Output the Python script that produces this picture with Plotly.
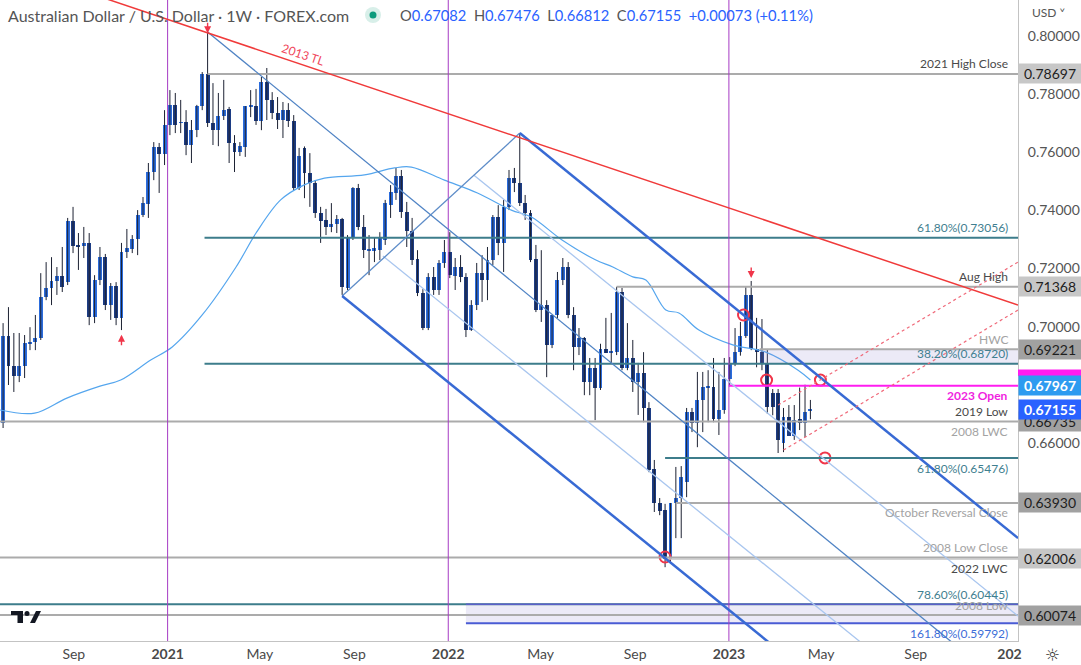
import plotly.graph_objects as go
import pandas as pd

# AUD/USD weekly candles, first bar = week of 1 June 2020
weeks = pd.date_range("2020-06-01", periods=151, freq="7D")

opens = [
    .6668, .6967, .6864, .6830, .6864, .6943, .6947, .6961, .7102, .7133,
    .7157, .7174, .7153, .7363, .7281, .7277, .7288, .7033, .7160, .7239,
    .7074, .7140, .7029, .7257, .7267, .7301, .7384, .7422, .7532, .7618,
    .7594, .7694, .7763, .7701, .7704, .7625, .7677, .7759, .7870, .7701,
    .7677, .7725, .7749, .7632, .7601, .7618, .7759, .7759, .7708, .7842,
    .7780, .7735, .7711, .7745, .7708, .7477, .7615, .7529, .7494, .7391,
    .7367, .7343, .7353, .7370, .7133, .7308, .7477, .7343, .7263, .7260,
    .7263, .7298, .7418, .7460, .7518, .7394, .7329, .7233, .7115, .6995,
    .7171, .7126, .7219, .7257, .7174, .7205, .7171, .6988, .7074, .7184,
    .7160, .7229, .7377, .7288, .7412, .7511, .7494, .7425, .7391, .7233,
    .7057, .7074, .6937, .7040, .7160, .7205, .7040, .6930, .6961, .6809,
    .6857, .6789, .6923, .6912, .6912, .7119, .6857, .6892, .6809, .6840,
    .6720, .6510, .6393, .6369, .6201, .6393, .6410, .6465, .6706, .6668,
    .6747, .6792, .6792, .6682, .6713, .6819, .6875, .6912, .6967, .7109,
    .6923, .6912, .6875, .6771, .6771, .6600, .6689, .6623, .6682, .6668,
    .67082,
]
highs = [
    .7012, .7067, .6978, .6978, .6971, .6998, .7040, .7184, .7222, .7239,
    .7205, .7274, .7374, .7412, .7322, .7343, .7322, .7177, .7274, .7250,
    .7150, .7153, .7288, .7336, .7315, .7401, .7446, .7563, .7635, .7632,
    .7745, .7814, .7804, .7780, .7745, .7711, .7763, .7876, .8014, .7838,
    .7804, .7849, .7756, .7659, .7635, .7759, .7814, .7818, .7859, .7890,
    .7807, .7790, .7773, .7769, .7728, .7615, .7620, .7597, .7504, .7412,
    .7405, .7425, .7384, .7374, .7315, .7480, .7491, .7384, .7315, .7308,
    .7325, .7436, .7487, .7546, .7539, .7429, .7374, .7263, .7129, .7184,
    .7205, .7229, .7298, .7325, .7236, .7246, .7184, .7091, .7219, .7246,
    .7274, .7384, .7418, .7436, .7539, .7546, .7666, .7453, .7401, .7281,
    .7263, .7091, .7040, .7188, .7236, .7222, .7067, .6995, .6964, .6892,
    .6892, .6941, .7030, .7047, .7137, .7133, .7012, .6954, .6875, .6912,
    .6740, .6541, .6410, .6390, .6393, .6517, .6520, .6720, .6720, .6844,
    .6844, .6850, .6892, .6844, .6892, .6895, .6995, .7016, .7136, .7157,
    .7030, .7026, .6923, .6785, .6785, .6720, .6730, .6730, .6790, .6800,
    .67476,
]
lows = [
    .6651, .6799, .6775, .6809, .6823, .6919, .6919, .6954, .7091, .7074,
    .7109, .7119, .7143, .7253, .7195, .7236, .7005, .7012, .7143, .7057,
    .7023, .7005, .6988, .7236, .7253, .7246, .7377, .7374, .7504, .7460,
    .7556, .7659, .7666, .7666, .7590, .7563, .7652, .7745, .7687, .7625,
    .7621, .7711, .7563, .7532, .7587, .7584, .7721, .7694, .7676, .7711,
    .7714, .7680, .7649, .7687, .7470, .7470, .7442, .7412, .7374, .7288,
    .7315, .7325, .7322, .7109, .7126, .7298, .7332, .7236, .7177, .7222,
    .7229, .7281, .7374, .7436, .7374, .7274, .7212, .7105, .6988, .6988,
    .7109, .7109, .7202, .7167, .7126, .7153, .6964, .6985, .7057, .7085,
    .7091, .7212, .7246, .7188, .7401, .7463, .7415, .7367, .7222, .7050,
    .7016, .6826, .6926, .7029, .7143, .7029, .6850, .6902, .6764, .6764,
    .6678, .6782, .6909, .6875, .6902, .6850, .6850, .6775, .6696, .6671,
    .6499, .6362, .6351, .6172, .6190, .6272, .6272, .6413, .6637, .6585,
    .6637, .6671, .6671, .6627, .6700, .6795, .6864, .6900, .6961, .6919,
    .6860, .6850, .6700, .6695, .6565, .6568, .6644, .6610, .6644, .6620,
    .66812,
]
closes = [
    .6967, .6864, .6830, .6864, .6943, .6947, .6961, .7102, .7133, .7157,
    .7174, .7136, .7363, .7277, .7277, .7288, .7033, .7160, .7239, .7074,
    .7140, .7029, .7257, .7270, .7301, .7384, .7425, .7532, .7618, .7594,
    .7694, .7763, .7694, .7704, .7625, .7677, .7759, .7870, .7701, .7677,
    .7725, .7745, .7632, .7601, .7621, .7759, .7761, .7708, .7842, .7780,
    .7735, .7711, .7745, .7708, .7477, .7587, .7529, .7494, .7391, .7363,
    .7343, .7353, .7370, .7136, .7308, .7477, .7343, .7263, .7267, .7270,
    .7308, .7425, .7463, .7518, .7394, .7329, .7229, .7115, .6995, .7171,
    .7126, .7219, .7257, .7177, .7205, .7171, .6988, .7074, .7184, .7160,
    .7229, .7377, .7288, .7412, .7511, .7494, .7425, .7391, .7229, .7057,
    .7074, .6937, .7040, .7160, .7205, .7040, .6930, .6961, .6809, .6857,
    .6789, .6923, .6909, .6915, .7119, .6857, .6892, .6809, .6840, .6720,
    .6506, .6393, .6365, .6201, .6393, .6410, .6482, .6706, .6668, .6747,
    .6792, .6795, .6682, .6713, .6819, .6875, .6912, .6967, .7109, .6923,
    .6912, .6875, .6723, .6723, .6610, .6689, .6623, .6678, .6668, .6706,
    .67155,
]

# moving average
ma_dates = ["2020-05-28", "2020-07-12", "2020-08-23", "2020-10-05", "2020-11-01",
            "2020-12-10", "2021-01-07", "2021-02-15", "2021-03-31", "2021-04-26",
            "2021-05-28", "2021-06-27", "2021-07-24", "2021-09-14", "2021-10-23",
            "2021-11-14", "2021-12-27", "2022-02-08", "2022-03-24", "2022-04-19",
            "2022-05-29", "2022-07-12", "2022-08-03", "2022-08-29", "2022-09-15",
            "2022-10-11", "2022-10-28", "2022-11-23", "2023-01-06", "2023-02-18",
            "2023-04-01", "2023-04-17"]
ma_values = [.6713, .6702, .6754, .6795, .6816, .6885, .6930, .7040, .7205, .7322,
             .7436, .7487, .7511, .7522, .7546, .7549, .7504, .7460, .7401, .7377,
             .7298, .7229, .7205, .7171, .7160, .7057, .7047, .6988, .6937, .6912,
             .6850, .6816]

# horizontal levels: price, start date, kind
level_prices = [0.78697, 0.73056, 0.71368, 0.69221, 0.68720, 0.67967, 0.66735,
                0.65476, 0.63930, 0.62050, 0.62006, 0.60445, 0.60074, 0.59792]
level_starts = ["2021-02-22", "2021-02-18", "2022-08-08", "2023-02-10", "2021-02-18",
                "2023-01-01", "2020-05-01", "2022-10-10", "2022-10-24", "2020-05-01",
                "2022-10-12", "2020-05-01", "2020-05-01", "2022-01-24"]
level_kinds = ["gray", "fib", "gray", "gray", "fib", "open", "gray",
               "fib", "gray", "gray", "lgray", "fib", "gray", "ext"]

# level texts: text, price, side (+1 above, -1 below), kind
label_texts = ["2021 High Close", "61.80%(0.73056)", "Aug High", "HWC", "38.20%(0.68720)",
               "2023 Open", "2019 Low", "2008 LWC", "61.80%(0.65476)", "October Reversal Close",
               "2008 Low Close", "2022 LWC", "78.60%(0.60445)", "2008 Low", "161.80%(0.59792)"]
label_prices = [0.78697, 0.73056, 0.71368, 0.69221, 0.68720, 0.67967, 0.66735, 0.66735,
                0.65476, 0.63930, 0.62050, 0.62006, 0.60445, 0.60074, 0.59792]
label_sides = [1, 1, 1, 1, 1, -1, 1, -1, -1, -1, 1, -1, 1, 1, -1]
label_kinds = ["dark", "fib", "dark", "light", "fib", "open", "dark", "light", "fib",
               "light", "light", "dark", "fib", "light", "ext"]

# price tags on the right scale
tag_prices = [0.78697, 0.71368, 0.69221, 0.66735, 0.67967, 0.67155, 0.63930, 0.62006, 0.60074]
tag_kinds = ["lgray", "lgray", "gray", "gray", "open", "last", "gray", "lgray", "gray"]

# trendlines: (date0, price0, date1, price1)
tl_2013 = ("2020-05-28", 0.8251, "2024-01-12", 0.7074)
chan_upper = ("2022-04-04", 0.7666, "2024-01-12", 0.6272)
chan_lower = ("2021-08-16", 0.7105, "2023-04-04", 0.5825)
chan_handle = ("2021-08-16", 0.7105, "2022-04-04", 0.7666)
line_2021 = ("2021-02-22", 0.8014, "2023-10-29", 0.5890)
pale_a = ("2022-02-03", 0.7522, "2024-01-12", 0.6004)
pale_b = ("2021-10-08", 0.7243, "2023-07-17", 0.5859)
dot_a = ("2023-03-06", 0.6730, "2024-01-12", 0.7222)
dot_b = ("2023-03-13", 0.6575, "2024-01-12", 0.7057)

circle_dates = ["2023-01-20", "2023-02-19", "2023-04-30", "2023-05-06", "2022-10-10"]
circle_prices = [0.7040, 0.6816, 0.6816, 0.6548, 0.6207]

year_lines = ["2021-01-01", "2022-01-01", "2023-01-01"]
tick_dates = ["2020-09-01", "2021-01-01", "2021-05-01", "2021-09-01", "2022-01-01",
              "2022-05-01", "2022-09-01", "2023-01-01", "2023-05-01", "2023-09-01", "2024-01-01"]
tick_names = ["Sep", "<b>2021</b>", "May", "Sep", "<b>2022</b>", "May", "Sep",
              "<b>2023</b>", "May", "Sep", "<b>202</b>"]
price_ticks = [0.80, 0.78, 0.76, 0.74, 0.72, 0.70, 0.66]

FONT = "Lato"
UP, DOWN, WICK = "#2b6cdc", "#1c3c84", "#1d2233"
X0, X1 = "2020-05-28", "2024-01-12"
Y0, Y1 = 0.5918, 0.8124
PW, PH = 1018, 641  # plot area in pixels

fig = go.Figure()

# wicks
wx, wy = [], []
for d, h, l in zip(weeks, highs, lows):
    wx += [d, d, None]
    wy += [l, h, None]
fig.add_trace(go.Scatter(x=wx, y=wy, mode="lines", line=dict(color=WICK, width=1),
                         hoverinfo="skip", showlegend=False))

# bodies
base = [min(o, c) for o, c in zip(opens, closes)]
size = [max(abs(c - o), 0.0002) for o, c in zip(opens, closes)]
cols = [UP if c >= o else DOWN for o, c in zip(opens, closes)]
fig.add_trace(go.Bar(x=weeks, y=size, base=base, width=5.1 * 86400000,
                     marker=dict(color=cols, line=dict(width=0)), showlegend=False))

# moving average
fig.add_trace(go.Scatter(x=ma_dates, y=ma_values, mode="lines",
                         line=dict(color="#55a6ee", width=1.2, shape="spline"),
                         showlegend=False))

# red circles
fig.add_trace(go.Scatter(x=circle_dates, y=circle_prices, mode="markers",
                         marker=dict(symbol="circle-open", size=11, color="#f0364a",
                                     line=dict(width=2, color="#f0364a")),
                         showlegend=False))

shapes = []
kind_color = {"gray": "#ababab", "lgray": "#c4c4c4", "fib": "#3d7d8b",
              "open": "#ff1cf0", "ext": "#4a5bd4"}

# shaded zones
shapes.append(dict(type="rect", xref="x", yref="y", x0="2023-02-10", x1="2024-03-01",
                   y0=0.68720, y1=0.69221, fillcolor="rgba(150,140,210,0.18)",
                   line=dict(width=0), layer="above"))
shapes.append(dict(type="rect", xref="x", yref="y", x0="2022-01-24", x1="2024-03-01",
                   y0=0.59792, y1=0.60445, fillcolor="rgba(150,140,210,0.18)",
                   line=dict(width=0), layer="above"))

for p, s, k in zip(level_prices, level_starts, level_kinds):
    shapes.append(dict(type="line", xref="x", yref="y", x0=s, x1="2024-03-01", y0=p, y1=p,
                       line=dict(color=kind_color[k], width=2 if k != "lgray" else 1.5)))
shapes.append(dict(type="line", xref="x", yref="y", x0="2022-01-24", x1="2024-03-01",
                   y0=0.60445, y1=0.60445, line=dict(color="#5b5fc8", width=1.5)))

for d in year_lines:
    shapes.append(dict(type="line", xref="x", yref="paper", x0=d, x1=d, y0=0, y1=1,
                       line=dict(color="#a63bc4", width=1)))


def seg(t, color, width, dash=None):
    return dict(type="line", xref="x", yref="y", x0=t[0], y0=t[1], x1=t[2], y1=t[3],
                line=dict(color=color, width=width, dash=dash))


shapes += [
    seg(pale_a, "#a9c6ef", 1.3),
    seg(pale_b, "#a9c6ef", 1.3),
    seg(line_2021, "#4f83c4", 1.3),
    seg(chan_handle, "#5d8cc8", 1.3),
    seg(chan_upper, "#386ad4", 2.5),
    seg(chan_lower, "#386ad4", 2.5),
    seg(tl_2013, "#f03a3a", 1.5),
    seg(dot_a, "#f06a7a", 1.2, "dot"),
    seg(dot_b, "#f06a7a", 1.2, "dot"),
]

# right scale strip for the magenta tag hidden behind
shapes.append(dict(type="rect", xref="paper", yref="y", x0=1.0, x1=1.07,
                   y0=0.6830, y1=0.6852, fillcolor="#ff1cf0", line=dict(width=0)))


def px(x, y):
    return x / PW, 1 - y / PH


# TradingView logo
lx = [px(11, 611), px(23, 611), px(23, 623), px(17.5, 623), px(17.5, 615), px(11, 615)]
shapes.append(dict(type="path", xref="paper", yref="paper",
                   path="M " + " L ".join(f"{a:.5f} {b:.5f}" for a, b in lx) + " Z",
                   fillcolor="#131722", line=dict(width=0)))
c0, c1 = px(24.5, 611), px(29.5, 616)
shapes.append(dict(type="circle", xref="paper", yref="paper", x0=c0[0], x1=c1[0],
                   y0=c1[1], y1=c0[1], fillcolor="#131722", line=dict(width=0)))
sl = [px(30, 623), px(35, 623), px(41, 611), px(36, 611)]
shapes.append(dict(type="path", xref="paper", yref="paper",
                   path="M " + " L ".join(f"{a:.5f} {b:.5f}" for a, b in sl) + " Z",
                   fillcolor="#131722", line=dict(width=0)))

# header status dot
d0, d1 = px(365, 7), px(381, 23)
shapes.append(dict(type="circle", xref="paper", yref="paper", x0=d0[0], x1=d1[0],
                   y0=d1[1], y1=d0[1], fillcolor="#d8efe9", line=dict(width=0)))
d0, d1 = px(369.5, 11.5), px(376.5, 18.5)
shapes.append(dict(type="circle", xref="paper", yref="paper", x0=d0[0], x1=d1[0],
                   y0=d1[1], y1=d0[1], fillcolor="#0c9b7c", line=dict(width=0)))

ann = []
lab_color = {"dark": "#4a4a4a", "light": "#a3a3a3", "fib": "#3f8090",
             "open": "#f01ee0", "ext": "#3d6ed8"}
for t, p, s, k in zip(label_texts, label_prices, label_sides, label_kinds):
    ann.append(dict(x=1010 / PW, xref="paper", y=p, yref="y", text=t, showarrow=False,
                    xanchor="right", yanchor="middle", yshift=10 * s,
                    font=dict(family=FONT, size=12, color=lab_color[k],
                              weight="bold" if k == "open" else "normal")))

tag_bg = {"lgray": "#c7c7c7", "gray": "#a1a1a1", "open": "#2d9bf0", "last": "#2962ff"}
tag_fg = {"lgray": "#1e1e1e", "gray": "#1e1e1e", "open": "#ffffff", "last": "#ffffff"}
for p, k in zip(tag_prices, tag_kinds):
    ann.append(dict(x=1.0, xref="paper", y=p, yref="y", text=f"{p:.5f}", showarrow=False,
                    xanchor="left", yanchor="middle", width=62, height=19, bgcolor=tag_bg[k],
                    borderpad=0, font=dict(family=FONT, size=14, color=tag_fg[k],
                                           weight="bold" if k in ("open", "last") else "normal")))

# arrows
ann.append(dict(x="2021-02-22", y=0.8010, xref="x", yref="y", ax=0, ay=-12, showarrow=True,
                arrowhead=2, arrowsize=1, arrowwidth=1.4, arrowcolor="#f0364a", text=""))
ann.append(dict(x="2020-11-02", y=0.6972, xref="x", yref="y", ax=0, ay=12, showarrow=True,
                arrowhead=2, arrowsize=1, arrowwidth=1.4, arrowcolor="#f0364a", text=""))
ann.append(dict(x="2023-01-30", y=0.7167, xref="x", yref="y", ax=0, ay=-12, showarrow=True,
                arrowhead=2, arrowsize=1, arrowwidth=1.4, arrowcolor="#f0364a", text=""))

tx, ty = px(303, 55)
ann.append(dict(x=tx, y=ty, xref="paper", yref="paper", text="2013 TL",
                xanchor="center", yanchor="middle", showarrow=False, textangle=18.5,
                font=dict(family=FONT, size=12, color="#f0465a")))

# header
hx, hy = px(6, 15)
ann.append(dict(x=hx, y=hy, xref="paper", yref="paper", xanchor="left", yanchor="middle",
                text="Australian Dollar / U.S. Dollar · 1W · FOREX.com", showarrow=False,
                font=dict(family=FONT, size=16, color="#555555")))
v = "<span style='color:#2962ff'>%s</span>"
ohlc = ("O" + v % "0.67082" + "  H" + v % "0.67476" + "  L" + v % "0.66812" + "  C" +
        v % "0.67155" + "  " + v % "+0.00073 (+0.11%)")
hx, hy = px(398, 15)
ann.append(dict(x=hx, y=hy, xref="paper", yref="paper", xanchor="left", yanchor="middle",
                text=ohlc, showarrow=False, font=dict(family=FONT, size=14.7, color="#555555")))
hx, hy = px(1030, 12)
ann.append(dict(x=hx, y=hy, xref="paper", yref="paper", xanchor="left", yanchor="middle",
                text="USD ˅", showarrow=False, font=dict(family=FONT, size=12, color="#555555")))
hx, hy = px(1052, 655)
ann.append(dict(x=hx, y=hy, xref="paper", yref="paper", xanchor="center", yanchor="middle",
                text="☼", showarrow=False,
                font=dict(family="DejaVu Sans", size=17, color="#333333")))

fig.update_layout(
    width=1081, height=665,
    margin=dict(l=0, r=63, t=0, b=24, autoexpand=False),
    paper_bgcolor="white", plot_bgcolor="white",
    shapes=shapes, annotations=ann, showlegend=False, bargap=0,
    xaxis=dict(type="date", range=[X0, X1], tickvals=tick_dates, ticktext=tick_names,
               showgrid=False, zeroline=False, showline=True, linecolor="#c3c3c3",
               ticks="", tickfont=dict(family=FONT, size=14, color="#4a4a4a")),
    yaxis=dict(range=[Y0, Y1], side="right", tickvals=price_ticks, tickformat=".5f",
               showgrid=False, zeroline=False, showline=True, linecolor="#c3c3c3",
               ticks="", ticklabelstandoff=6,
               tickfont=dict(family=FONT, size=14, color="#555555")),
)

fig.write_html("out.html", config={"displayModeBar": False},
               post_script="document.body.style.margin='0';")
